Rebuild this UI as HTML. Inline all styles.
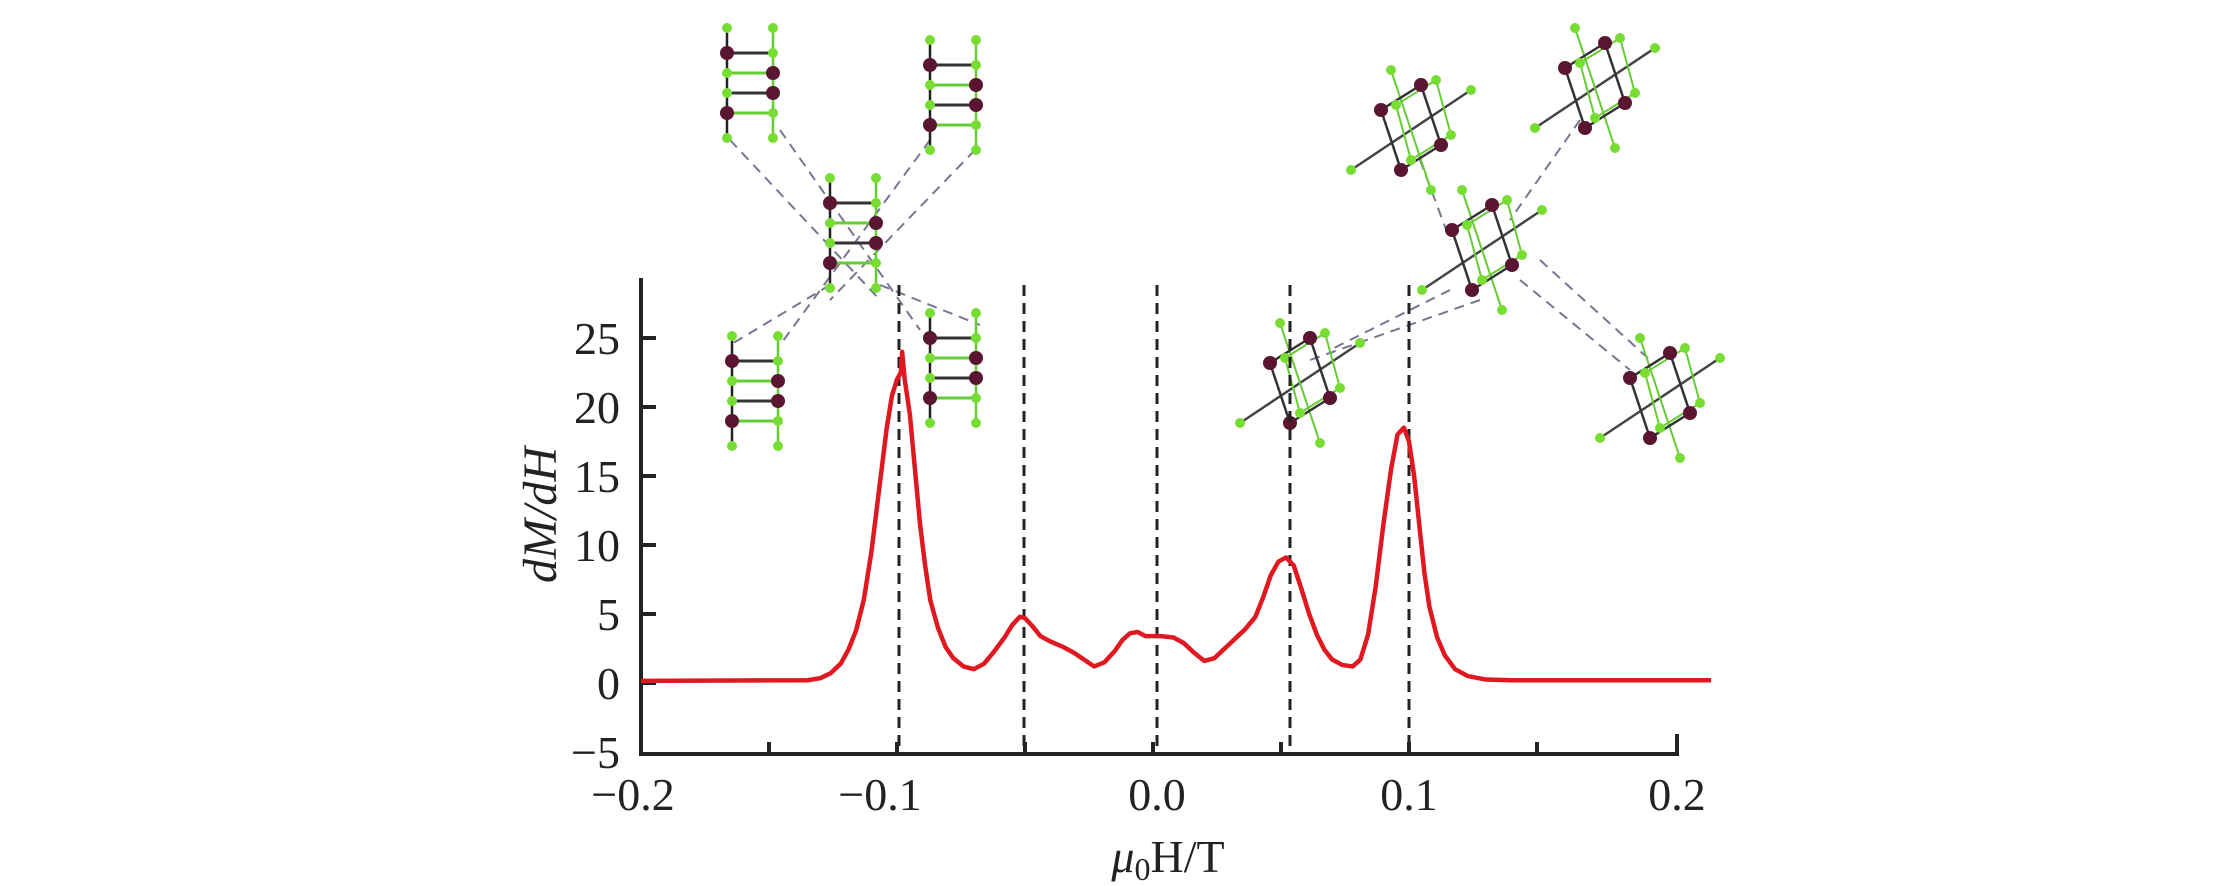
<!DOCTYPE html>
<html><head><meta charset="utf-8"><style>
html,body{margin:0;padding:0;background:#fff}
svg{display:block}
text{font-family:"Liberation Serif",serif;fill:#222}
</style></head><body>
<svg width="2213" height="886" viewBox="0 0 2213 886" xmlns="http://www.w3.org/2000/svg">
<defs>
<g id="lad">
 <line x1="0" y1="0" x2="0" y2="110" stroke="#222" stroke-width="2.5"/>
 <line x1="46" y1="0" x2="46" y2="110" stroke="#6c3" stroke-width="2.5"/>
 <line x1="0" y1="25" x2="46" y2="25" stroke="#333" stroke-width="3"/>
 <line x1="0" y1="45" x2="46" y2="45" stroke="#6c3" stroke-width="3"/>
 <line x1="0" y1="65" x2="46" y2="65" stroke="#333" stroke-width="3"/>
 <line x1="0" y1="85" x2="46" y2="85" stroke="#6c3" stroke-width="3"/>
 <circle cx="0" cy="0" r="5" fill="#7d3"/><circle cx="46" cy="0" r="5" fill="#7d3"/>
 <circle cx="0" cy="110" r="5" fill="#7d3"/><circle cx="46" cy="110" r="5" fill="#7d3"/>
 <circle cx="0" cy="25" r="7" fill="#5a1530"/><circle cx="46" cy="25" r="5" fill="#7d3"/>
 <circle cx="0" cy="45" r="5" fill="#7d3"/><circle cx="46" cy="45" r="7" fill="#5a1530"/>
 <circle cx="0" cy="65" r="5" fill="#7d3"/><circle cx="46" cy="65" r="7" fill="#5a1530"/>
 <circle cx="0" cy="85" r="7" fill="#5a1530"/><circle cx="46" cy="85" r="5" fill="#7d3"/>
</g>
<g id="cube">
 <line x1="-60" y1="40" x2="60" y2="-40" stroke="#444" stroke-width="2.5"/>
 <line x1="-20" y1="-60" x2="20" y2="60" stroke="#6c3" stroke-width="2"/>
 <polygon points="-30,-20 10,-45 30,15 -10,40" fill="none" stroke="#333" stroke-width="2.5"/>
 <polygon points="-15,-25 25,-50 40,5 0,30" fill="none" stroke="#6c3" stroke-width="2"/>
 <circle cx="-30" cy="-20" r="7" fill="#5a1530"/><circle cx="10" cy="-45" r="7" fill="#5a1530"/>
 <circle cx="30" cy="15" r="7" fill="#5a1530"/><circle cx="-10" cy="40" r="7" fill="#5a1530"/>
 <circle cx="-15" cy="-25" r="5" fill="#7d3"/><circle cx="25" cy="-50" r="5" fill="#7d3"/>
 <circle cx="40" cy="5" r="5" fill="#7d3"/><circle cx="0" cy="30" r="5" fill="#7d3"/>
 <circle cx="-60" cy="40" r="5" fill="#7d3"/><circle cx="60" cy="-40" r="5" fill="#7d3"/>
 <circle cx="-20" cy="-60" r="5" fill="#7d3"/><circle cx="20" cy="60" r="5" fill="#7d3"/>
</g>
</defs>
<g stroke="#557" stroke-width="2" stroke-dasharray="10,7" fill="none" opacity="0.8">
 <line x1="730" y1="140" x2="880" y2="300"/><line x1="975" y1="150" x2="830" y2="300"/>
 <line x1="830" y1="285" x2="730" y2="345"/><line x1="880" y1="285" x2="980" y2="325"/>
 <line x1="780" y1="130" x2="920" y2="330"/><line x1="930" y1="140" x2="780" y2="345"/>
 <line x1="1420" y1="160" x2="1450" y2="240"/><line x1="1580" y1="120" x2="1510" y2="220"/>
 <line x1="1450" y1="290" x2="1330" y2="350"/><line x1="1480" y1="300" x2="1310" y2="360"/>
 <line x1="1520" y1="280" x2="1630" y2="370"/><line x1="1540" y1="260" x2="1650" y2="360"/>
</g>
<use href="#lad" x="727" y="28"/>
<use href="#lad" x="930" y="40"/>
<use href="#lad" x="830" y="178"/>
<use href="#lad" x="732" y="336"/>
<use href="#lad" x="930" y="313"/>
<use href="#cube" x="1411" y="130"/>
<use href="#cube" x="1595" y="88"/>
<use href="#cube" x="1482" y="250"/>
<use href="#cube" x="1300" y="383"/>
<use href="#cube" x="1660" y="398"/>
<g stroke="#222" stroke-width="3" stroke-dasharray="11,7">
 <line x1="899" y1="285" x2="899" y2="754"/>
 <line x1="1024" y1="285" x2="1024" y2="754"/>
 <line x1="1157" y1="285" x2="1157" y2="754"/>
 <line x1="1290" y1="285" x2="1290" y2="754"/>
 <line x1="1409" y1="285" x2="1409" y2="754"/>
</g>
<g stroke="#222" stroke-width="4" fill="none">
 <polyline points="641,278 641,754 1677,754 1677,734"/>
 <line x1="769" y1="754" x2="769" y2="742"/><line x1="897" y1="754" x2="897" y2="742"/>
 <line x1="1025" y1="754" x2="1025" y2="742"/><line x1="1153" y1="754" x2="1153" y2="742"/>
 <line x1="1281" y1="754" x2="1281" y2="742"/><line x1="1409" y1="754" x2="1409" y2="742"/>
 <line x1="1537" y1="754" x2="1537" y2="742"/>
 <line x1="641" y1="338" x2="656" y2="338"/><line x1="641" y1="407" x2="656" y2="407"/>
 <line x1="641" y1="476" x2="656" y2="476"/><line x1="641" y1="545" x2="656" y2="545"/>
 <line x1="641" y1="614" x2="656" y2="614"/><line x1="641" y1="683" x2="656" y2="683"/>
</g>
<g font-size="46" text-anchor="end">
 <text x="620" y="354">25</text><text x="620" y="423">20</text><text x="620" y="492">15</text>
 <text x="620" y="561">10</text><text x="620" y="630">5</text><text x="620" y="699">0</text>
 <text x="620" y="768">−5</text>
</g>
<g font-size="46" text-anchor="middle">
 <text x="633" y="810">−0.2</text><text x="880" y="810">−0.1</text>
 <text x="1157" y="810">0.0</text><text x="1409" y="810">0.1</text><text x="1677" y="810">0.2</text>
</g>
<text x="1168" y="872" font-size="46" text-anchor="middle"><tspan font-style="italic">μ</tspan><tspan font-size="32" dy="8">0</tspan><tspan dy="-8">H/T</tspan></text>
<text transform="translate(556,515) rotate(-90)" font-size="48" font-style="italic" text-anchor="middle">dM/dH</text>
<g transform="translate(1153,683) scale(2560,-13.8)">
<polyline vector-effect="non-scaling-stroke" fill="none" stroke="#e01820" stroke-width="4.5" stroke-linejoin="round"
points="-0.2,0.15 -0.135,0.2 -0.13,0.35 -0.126,0.7 -0.122,1.4 -0.119,2.4 -0.116,3.8 -0.113,6 -0.110,9.5 -0.107,14 -0.104,18.5 -0.102,20.8 -0.100,22 -0.0985,22.5 -0.098,24 -0.097,22 -0.095,19.5 -0.093,15.5 -0.091,11.5 -0.089,8.5 -0.087,6 -0.084,4 -0.081,2.6 -0.078,1.8 -0.074,1.2 -0.070,1 -0.066,1.4 -0.062,2.3 -0.058,3.3 -0.055,4.2 -0.052,4.8 -0.050,4.7 -0.047,4.1 -0.044,3.4 -0.040,3 -0.035,2.6 -0.031,2.2 -0.027,1.7 -0.023,1.2 -0.019,1.5 -0.015,2.3 -0.012,3.1 -0.009,3.6 -0.006,3.7 -0.003,3.4 0.003,3.4 0.008,3.3 0.012,2.9 0.016,2.2 0.020,1.6 0.024,1.8 0.028,2.5 0.032,3.2 0.036,3.9 0.040,4.8 0.043,6.2 0.046,7.8 0.049,8.8 0.052,9.1 0.055,8.5 0.058,6.8 0.061,5 0.064,3.5 0.067,2.4 0.070,1.7 0.074,1.3 0.078,1.2 0.081,1.7 0.084,3.5 0.087,7 0.090,11.5 0.093,15.5 0.0955,18 0.098,18.5 0.100,17.5 0.102,15 0.104,11.5 0.106,8 0.108,5.5 0.111,3.3 0.114,2 0.118,1 0.123,0.5 0.13,0.25 0.14,0.2 0.218,0.2"/>
</g>
</svg>
</body></html>
